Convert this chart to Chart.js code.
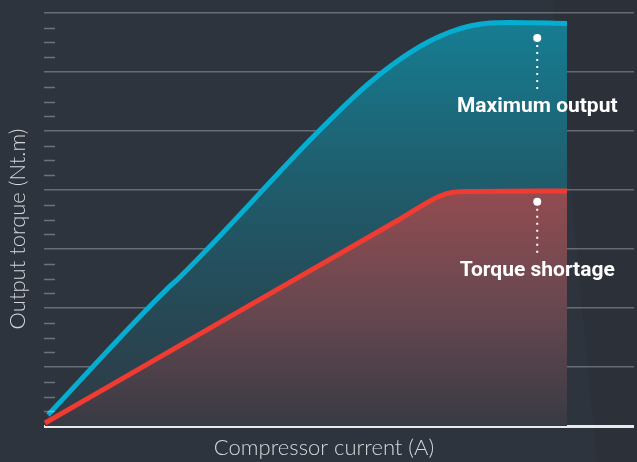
<!DOCTYPE html>
<html>
<head>
<meta charset="utf-8">
<script src="https://cdn.jsdelivr.net/npm/chart.js@4.4.1/dist/chart.umd.min.js"></script>
<style>
  html, body { margin: 0; padding: 0; background: #2e343e; }
  #wrap { width: 637px; height: 462px; position: relative; }
</style>
</head>
<body>
<div id="wrap"><canvas id="c"></canvas></div>
<script>
// ---- data (x: compressor current, relative units 0..100; y: torque units 0..28) ----
const maxOutputX = [0.68, 21.02, 22.71, 45.08, 48.47, 51.86, 55.25, 58.64, 62.03, 65.42, 68.81, 72.20, 75.59, 78.98, 88.64];
const maxOutputY = [0.75, 9.36, 9.97, 19.39, 20.75, 22.07, 23.29, 24.37, 25.32, 26.10, 26.71, 27.12, 27.32, 27.36, 27.29];
const shortageX = [0.17, 33.5, 60.0, 67.12, 69.15, 72.2, 88.64];
const shortageY = [0.2, 7.87, 13.95, 15.59, 15.83, 15.9, 15.93];
const yTicksMax = 28;
const majorEvery = 4;
const labels = ["Maximum output", "Torque shortage"];
const labelX = [83.6, 83.6];
const dotY = [26.3, 15.2];
const dotEndY = [22.8, 11.7];
const labelBaseY = [21.29, 10.17];
const xTitle = "Compressor current (A)";
const yTitle = "Output torque (Nt.m)";

const toPts = (xs, ys) => xs.map((x, i) => ({ x, y: ys[i] }));

function vGrad(ctx, area, stops) {
  const g = ctx.createLinearGradient(0, area.top, 0, area.bottom);
  stops.forEach(s => g.addColorStop(s[0], s[1]));
  return g;
}

const bgPlugin = {
  id: 'bg',
  beforeDraw(chart) {
    const { ctx, width, height } = chart;
    ctx.save();
    ctx.fillStyle = '#2e343e';
    ctx.fillRect(0, 0, width, height);
    ctx.fillStyle = '#2b3039';
    ctx.beginPath();
    ctx.moveTo(553, 0); ctx.lineTo(width, 0); ctx.lineTo(width, height); ctx.lineTo(597, height);
    ctx.closePath(); ctx.fill();
    ctx.restore();
  }
};

const decoPlugin = {
  id: 'deco',
  afterDraw(chart) {
    const { ctx, chartArea } = chart;
    const xs = chart.scales.x, ys = chart.scales.y;
    ctx.save();
    ctx.strokeStyle = 'rgba(255,255,255,0.3)';
    ctx.lineWidth = 1.5;
    for (let v = 1; v < yTicksMax; v++) {
      if (v % majorEvery === 0) continue;
      const py = Math.round(ys.getPixelForValue(v)) + 0.5;
      ctx.beginPath();
      ctx.moveTo(chartArea.left, py);
      ctx.lineTo(chartArea.left + 11, py);
      ctx.stroke();
    }
    for (let i = 0; i < labels.length; i++) {
      const px = xs.getPixelForValue(labelX[i]);
      const py0 = ys.getPixelForValue(dotY[i]);
      const py1 = ys.getPixelForValue(dotEndY[i]);
      ctx.fillStyle = '#ffffff';
      ctx.beginPath(); ctx.arc(px, py0, 4, 0, Math.PI * 2); ctx.fill();
      ctx.strokeStyle = '#ffffff';
      ctx.lineWidth = 2;
      ctx.setLineDash([2, 5]);
      ctx.beginPath(); ctx.moveTo(px, py0 + 7); ctx.lineTo(px, py1); ctx.stroke();
      ctx.setLineDash([]);
      ctx.font = 'bold 21px Roboto';
      ctx.textAlign = 'center';
      ctx.textBaseline = 'alphabetic';
      ctx.fillText(labels[i], px, ys.getPixelForValue(labelBaseY[i]));
    }
    ctx.fillStyle = '#d6d8db';
    ctx.font = '300 22px Lato';
    ctx.textAlign = 'center';
    ctx.textBaseline = 'middle';
    ctx.fillText(xTitle, 324, 448);
    ctx.translate(18, 229);
    ctx.rotate(-Math.PI / 2);
    ctx.fillText(yTitle, 0, 0);
    ctx.restore();
  }
};

new Chart(document.getElementById('c'), {
  type: 'line',
  data: {
    datasets: [
      {
        label: 'Maximum output',
        data: toPts(maxOutputX, maxOutputY),
        borderColor: '#05aed0',
        borderWidth: 5,
        pointRadius: 0,
        cubicInterpolationMode: 'monotone',
        fill: 'origin',
        order: 1,
        backgroundColor: (c) => {
          const a = c.chart.chartArea; if (!a) return 'transparent';
          return vGrad(c.chart.ctx, a, [[0, '#167f95'], [0.4, '#1f5d6d'], [0.7, '#264a57'], [1, '#2f3a45']]);
        }
      },
      {
        label: 'Torque shortage',
        data: toPts(shortageX, shortageY),
        borderColor: '#ef3b32',
        borderWidth: 5,
        pointRadius: 0,
        cubicInterpolationMode: 'monotone',
        fill: 'origin',
        order: 0,
        backgroundColor: (c) => {
          const a = c.chart.chartArea; if (!a) return 'transparent';
          return vGrad(c.chart.ctx, a, [[0, '#a04a4c'], [0.43, '#924c50'], [0.7, '#6a4850'], [1, '#383a44']]);
        }
      }
    ]
  },
  options: {
    responsive: true,
    maintainAspectRatio: false,
    animation: false,
    devicePixelRatio: 1,
    layout: { padding: { left: 44, right: 3, top: 13, bottom: 36 } },
    plugins: { legend: { display: false }, tooltip: { enabled: false } },
    scales: {
      x: { type: 'linear', min: 0, max: 100, display: false },
      y: {
        type: 'linear', min: 0, max: yTicksMax, z: 1,
        ticks: { display: false, stepSize: 1 },
        border: { display: false },
        grid: {
          drawTicks: false,
          color: (c) => c.tick.value === 0 ? '#e9e9e9' : (c.tick.value % majorEvery === 0 ? 'rgba(255,255,255,0.28)' : 'transparent'),
          lineWidth: (c) => c.tick.value === 0 ? 3 : 1.5
        }
      }
    }
  },
  plugins: [bgPlugin, decoPlugin]
});
</script>
</body>
</html>
